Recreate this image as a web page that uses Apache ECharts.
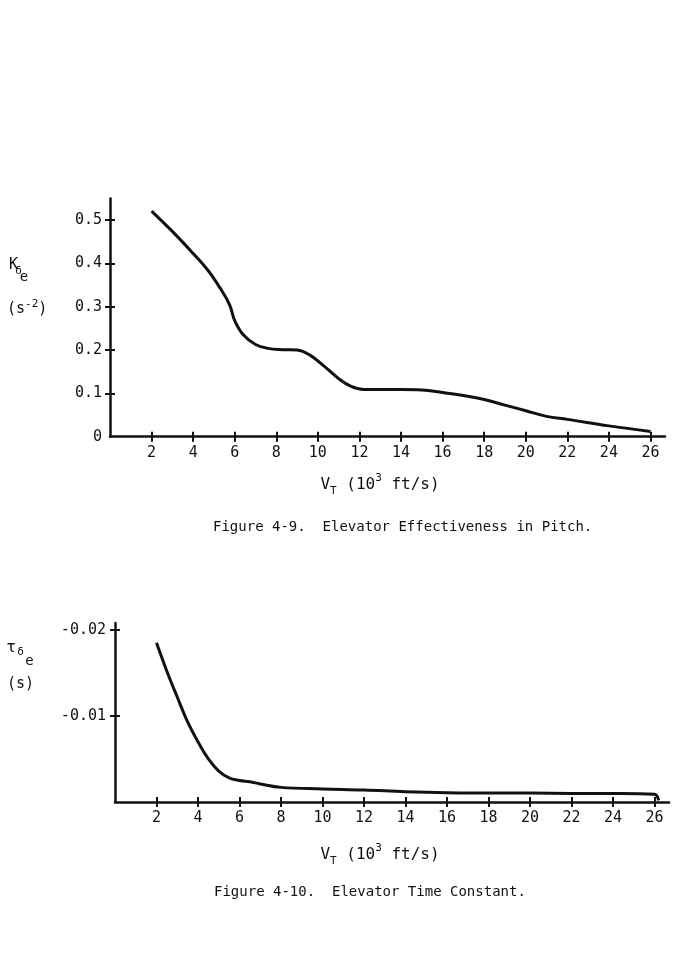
<!DOCTYPE html>
<html>
<head>
<meta charset="utf-8">
<script src="https://cdn.jsdelivr.net/npm/echarts@6/dist/echarts.min.js"></script>
<style>
  html, body { margin: 0; padding: 0; background: #fff; }
  #chart { width: 690px; height: 969px; }
</style>
</head>
<body>
<div id="chart"></div>
<script>
// Figure 4-9: elevator effectiveness in pitch, K_delta_e (s^-2) vs V_T (10^3 ft/s)
const speed1 = [2, 3, 4, 4.7, 5.3, 5.75, 6.0, 6.4, 7, 7.6, 8.3, 9, 9.6, 10.3, 11, 11.6, 12.2, 14, 15, 16, 17, 18, 19, 20, 21, 22, 24, 26];
const kDelta = [0.521, 0.474, 0.423, 0.385, 0.343, 0.305, 0.268, 0.236, 0.213, 0.204, 0.201, 0.200, 0.189, 0.163, 0.134, 0.116, 0.109, 0.109, 0.108, 0.102, 0.095, 0.086, 0.073, 0.060, 0.047, 0.040, 0.025, 0.012];

// Figure 4-10: elevator time constant, tau_delta_e (s) vs V_T
const speed2 = [2, 2.5, 3, 3.5, 4, 4.5, 5, 5.5, 6, 6.5, 7, 8, 10, 12, 14, 16, 18, 20, 22, 24, 26, 26.2];
const tauDelta = [-0.0185, -0.0152, -0.0122, -0.0093, -0.0070, -0.0050, -0.0036, -0.0028, -0.0025, -0.00235, -0.0021, -0.0017, -0.00152, -0.0014, -0.0012, -0.00108, -0.00105, -0.00104, -0.0010, -0.00099, -0.0009, -0.0002];

// tick labels
const speedTicks = [2, 4, 6, 8, 10, 12, 14, 16, 18, 20, 22, 24, 26];
const kTicks = [0.1, 0.2, 0.3, 0.4, 0.5];
const kLabels = [0, 0.1, 0.2, 0.3, 0.4, 0.5];
const tauTicks = [-0.02, -0.01];

const ink = '#111';
const mono = '"DejaVu Sans Mono", "Liberation Mono", monospace';
const axisLineStyle = { color: ink, width: 2.5 };
const tickStyle = { color: ink, width: 2 };

const chart = echarts.init(document.getElementById('chart'), null, { renderer: 'canvas' });

// each axis is drawn twice (ticks outside + ticks inside) to get the crossing tick marks
function axisPair(dim, gridIndex, opts) {
  const pos = dim === 'x' ? 'bottom' : 'left';
  const main = Object.assign({
    type: 'value', gridIndex: gridIndex, position: pos,
    axisLine: { show: true, onZero: false, lineStyle: axisLineStyle },
    axisTick: { show: true, inside: false, length: 5, customValues: opts.ticks, lineStyle: tickStyle },
    axisLabel: { customValues: opts.labels || opts.ticks, margin: opts.margin, fontFamily: mono, fontSize: 15, color: ink },
    splitLine: { show: false }
  }, opts.scale);
  const overlay = Object.assign({
    type: 'value', gridIndex: gridIndex, position: pos,
    axisLine: { show: false, onZero: false },
    axisTick: { show: true, inside: true, length: 5, customValues: opts.ticks, lineStyle: tickStyle },
    axisLabel: { show: false },
    splitLine: { show: false }
  }, opts.scale);
  return [main, overlay];
}

const xAxes = [].concat(
  axisPair('x', 0, { ticks: speedTicks, margin: 9, scale: { min: 0, max: 26.7 } }),
  axisPair('x', 1, { ticks: speedTicks, margin: 9, scale: { min: 0, max: 26.7 } })
);
const yAxes = [].concat(
  axisPair('y', 0, { ticks: kTicks, labels: kLabels, margin: 8, scale: { min: 0, max: 0.55 } }),
  axisPair('y', 1, { ticks: tauTicks, margin: 9, scale: { min: -0.0208, max: 0, inverse: true } })
);

function xName(y) {
  return {
    type: 'text', x: 380, y: y,
    style: {
      text: '{n|V}{sub|T}{n| (10}{sup|3}{n| ft/s)}',
      align: 'center', verticalAlign: 'middle', fill: ink,
      rich: {
        n: { fontFamily: mono, fontSize: 16, lineHeight: 24, fill: ink },
        sub: { fontFamily: mono, fontSize: 11, lineHeight: 12, verticalAlign: 'bottom', fill: ink },
        sup: { fontFamily: mono, fontSize: 11, lineHeight: 12, verticalAlign: 'top', fill: ink }
      }
    }
  };
}

function label(text, x, y, size, align) {
  return { type: 'text', x: x, y: y, style: { text: text, fontFamily: mono, fontSize: size, fill: ink, align: align || 'center', verticalAlign: 'middle' } };
}

chart.setOption({
  animation: false,
  backgroundColor: '#fff',
  grid: [
    { left: 110, right: 25, top: 198.5, height: 238.2 },
    { left: 115, right: 21, top: 623, height: 179 }
  ],
  xAxis: xAxes,
  yAxis: yAxes,
  series: [
    {
      type: 'line', xAxisIndex: 0, yAxisIndex: 0,
      data: speed1.map((v, i) => [v, kDelta[i]]),
      showSymbol: false, smooth: 0.4,
      lineStyle: { color: ink, width: 3 }
    },
    {
      type: 'line', xAxisIndex: 2, yAxisIndex: 2,
      data: speed2.map((v, i) => [v, tauDelta[i]]),
      showSymbol: false, smooth: 0.4,
      lineStyle: { color: ink, width: 3 }
    }
  ],
  graphic: [
    // y-axis name, figure 4-9
    label('K', 13.5, 265, 15),
    label('δ', 18.5, 271, 11),
    label('e', 24, 277, 14),
    {
      type: 'text', x: 7, y: 309,
      style: {
        text: '{n|(s}{sup|-2}{n|)}', verticalAlign: 'middle', fill: ink,
        rich: {
          n: { fontFamily: mono, fontSize: 15, lineHeight: 20, fill: ink },
          sup: { fontFamily: mono, fontSize: 11, lineHeight: 12, verticalAlign: 'top', fill: ink }
        }
      }
    },
    xName(485),
    label('Figure 4-9.  Elevator Effectiveness in Pitch.', 213, 527, 14, 'left'),
    // y-axis name, figure 4-10
    label('τ', 11, 648, 16),
    label('δ', 20.5, 652, 11),
    label('e', 29.5, 661, 14),
    label('(s)', 7, 684, 15, 'left'),
    xName(855),
    label('Figure 4-10.  Elevator Time Constant.', 214, 892, 14, 'left')
  ]
});
</script>
</body>
</html>
